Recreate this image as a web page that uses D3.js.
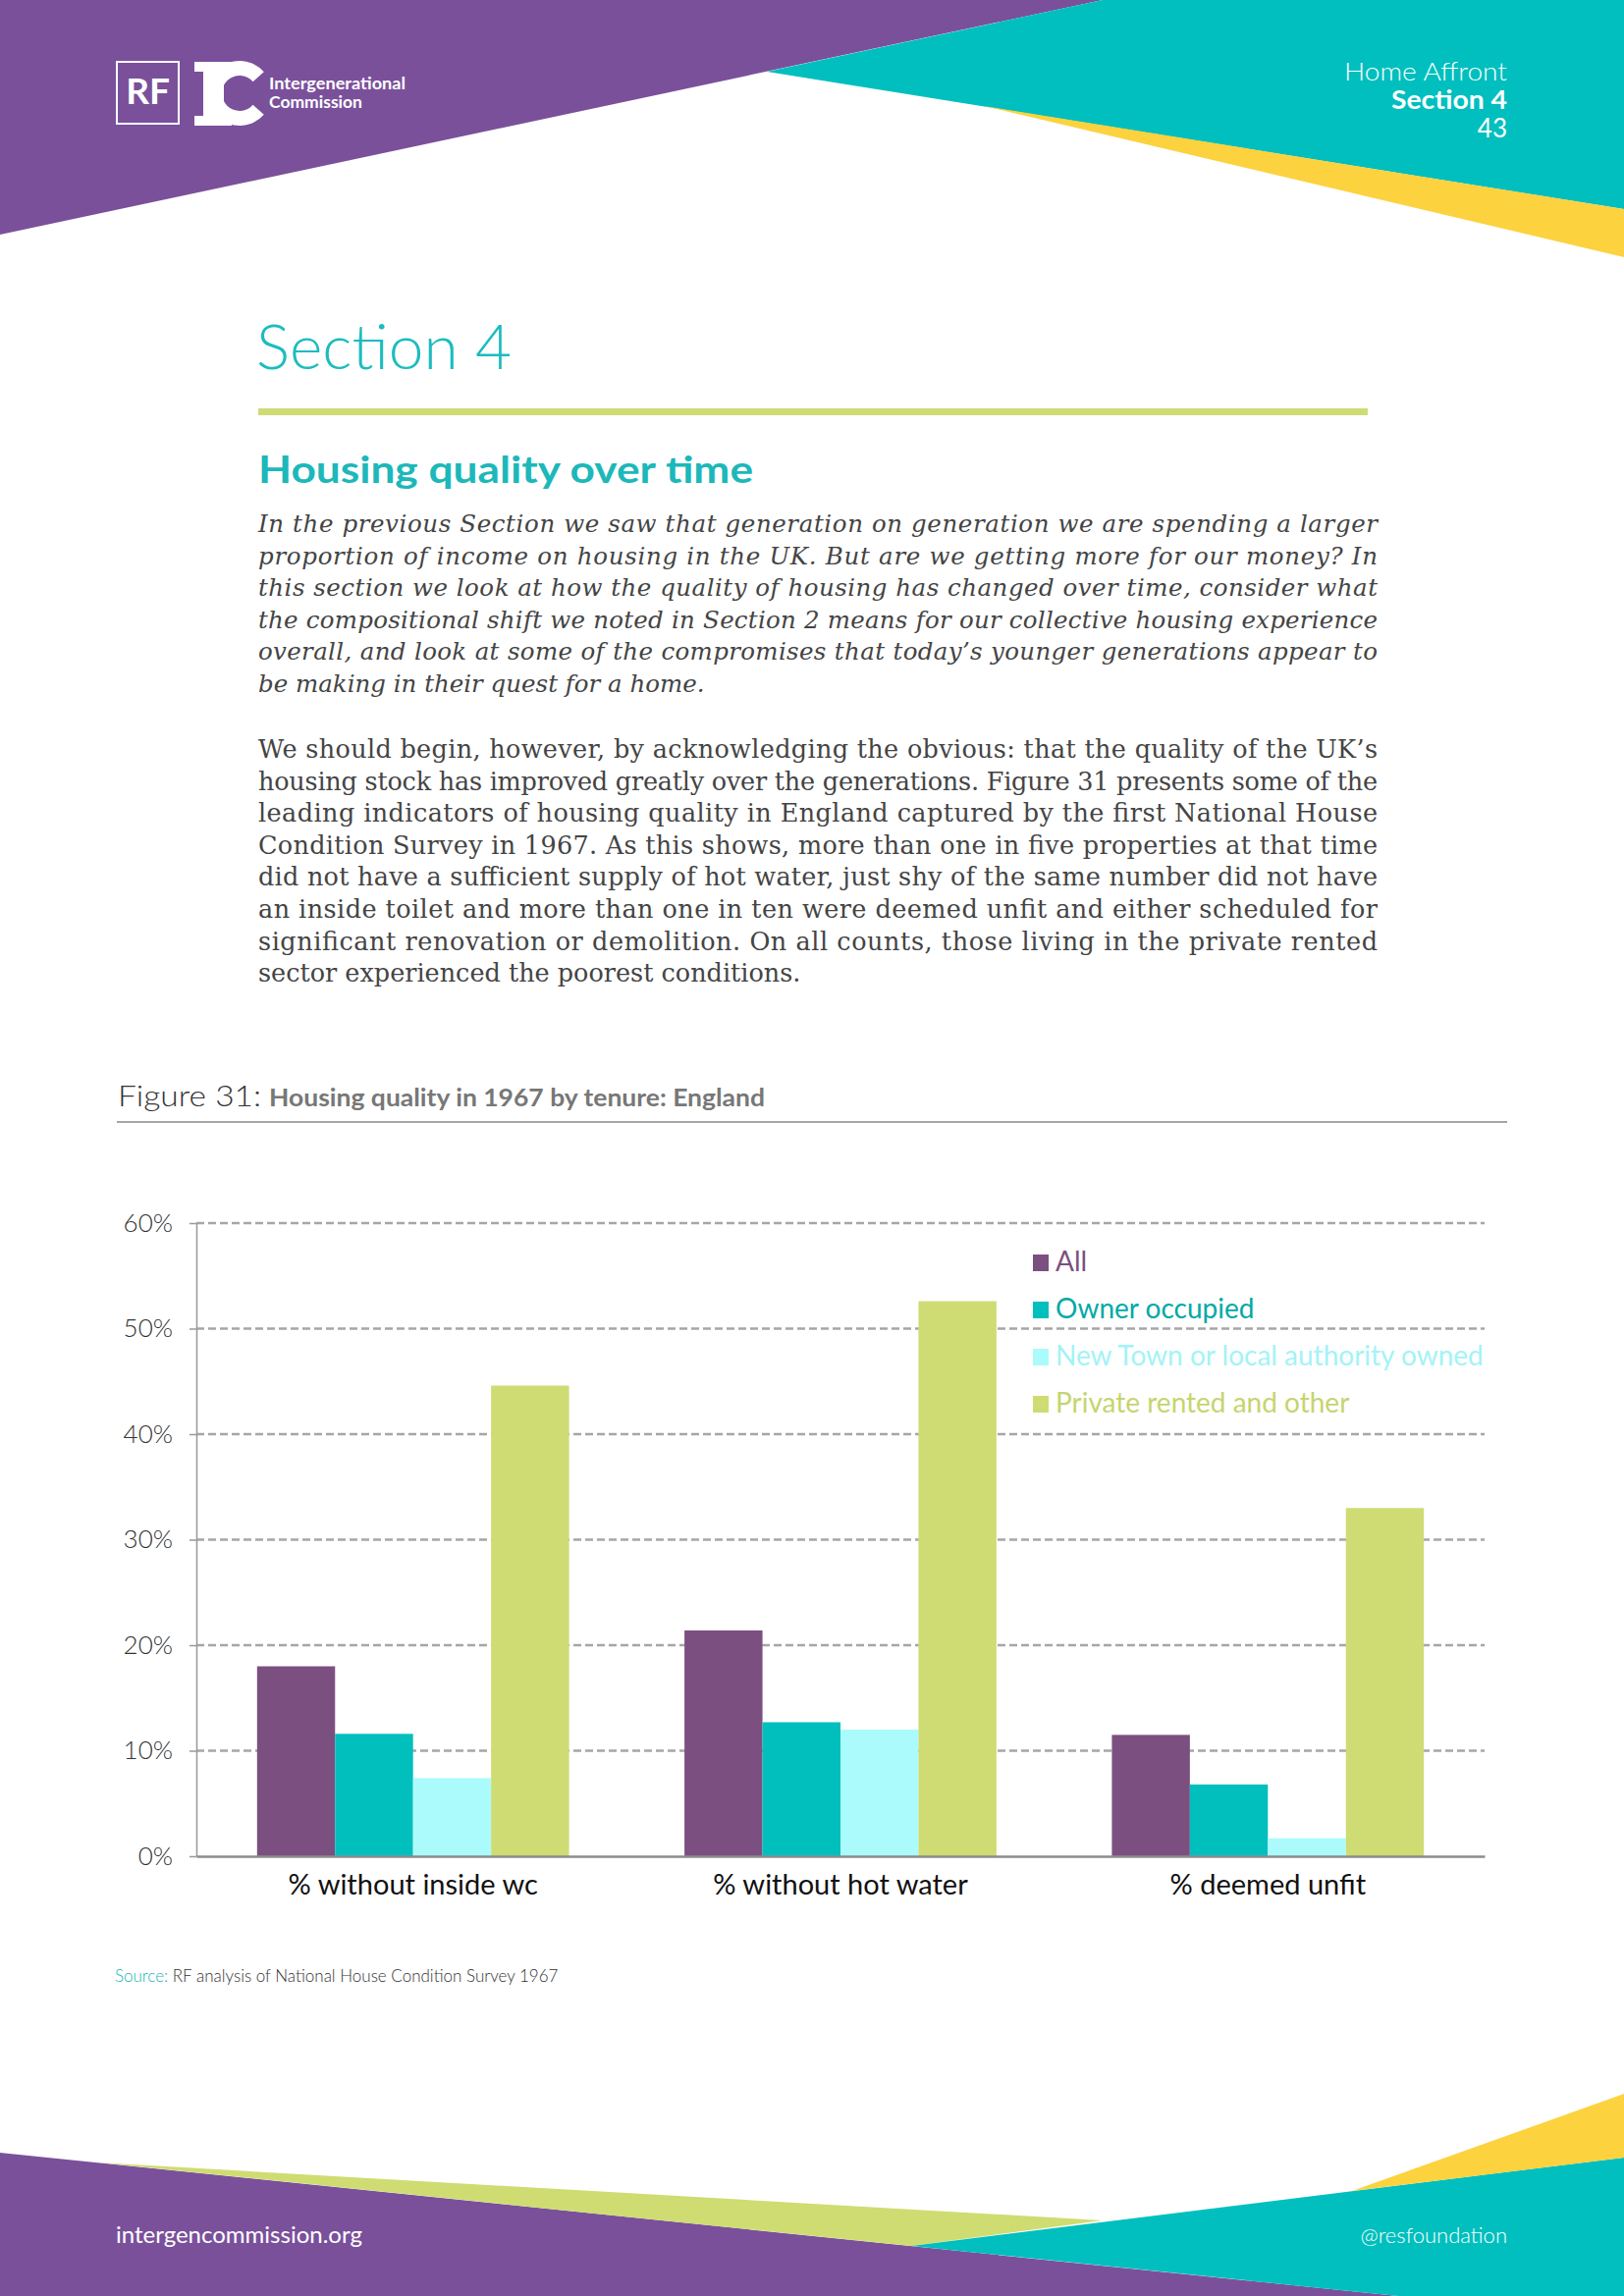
<!DOCTYPE html>
<html>
<head>
<meta charset="utf-8">
<script src="https://cdn.jsdelivr.net/npm/d3@7"></script>
<style>
  html, body { margin: 0; padding: 0; background: #fff; }
  svg { display: block; }
</style>
</head>
<body>
<svg id="page" width="1654" height="2339"></svg>
<script>
// chart data
const categories = ["% without inside wc", "% without hot water", "% deemed unfit"];
const seriesNames = ["All", "Owner occupied", "New Town or local authority owned", "Private rented and other"];
const allValues = [18.0, 21.4, 11.5];
const ownerValues = [11.6, 12.7, 6.8];
const newTownValues = [7.4, 12.0, 1.7];
const privateValues = [44.6, 52.6, 33.0];
const yTicks = [0, 10, 20, 30, 40, 50, 60];

// page text
const introLines = [
  "In the previous Section we saw that generation on generation we are spending a larger",
  "proportion of income on housing in the UK. But are we getting more for our money? In",
  "this section we look at how the quality of housing has changed over time, consider what",
  "the compositional shift we noted in Section 2 means for our collective housing experience",
  "overall, and look at some of the compromises that today\u2019s younger generations appear to",
  "be making in their quest for a home."
];
const bodyLines = [
  "We should begin, however, by acknowledging the obvious: that the quality of the UK\u2019s",
  "housing stock has improved greatly over the generations. Figure 31 presents some of the",
  "leading indicators of housing quality in England captured by the first National House",
  "Condition Survey in 1967. As this shows, more than one in five properties at that time",
  "did not have a sufficient supply of hot water, just shy of the same number did not have",
  "an inside toilet and more than one in ten were deemed unfit and either scheduled for",
  "significant renovation or demolition. On all counts, those living in the private rented",
  "sector experienced the poorest conditions."
];

var colors = ["#7b5080", "#00bfbd", "#abfbfc", "#cfdc74"];
var legendColors = ["#7b5080", "#00a9a7", "#a3f3f6", "#c6d46e"];
var sans = "Lato, 'Open Sans', sans-serif";

var svg = d3.select("#page");

// ---- page decoration ----
var purple = "#7a509b", teal = "#00bfbe", yellow = "#fcd23f", lime = "#cfdc72";
var shapes = [
  [purple, [[0, 0], [1123, 0], [0, 239]]],
  [teal, [[1123, 0], [1654, 0], [1654, 213], [781, 73]]],
  [yellow, [[1002, 108], [1654, 213], [1654, 262]]],
  [purple, [[0, 2193], [1424, 2339], [0, 2339]]],
  [lime, [[100, 2203], [1123, 2262], [928, 2288]]],
  [teal, [[928, 2288], [1654, 2198], [1654, 2339], [1424, 2339]]],
  [yellow, [[1377, 2232], [1654, 2133], [1654, 2198]]]
];
svg.selectAll("polygon.deco")
  .data(shapes)
  .enter().append("polygon")
  .attr("class", "deco")
  .attr("fill", function (d) { return d[0]; })
  .attr("points", function (d) { return d[1].join(" "); });

// logo
var logo = svg.append("g").attr("fill", "#fff");
logo.append("rect").attr("x", 119).attr("y", 63).attr("width", 63).attr("height", 63)
  .attr("fill", "none").attr("stroke", "#fff").attr("stroke-width", 2);
logo.append("text").attr("x", 150.5).attr("y", 106).attr("text-anchor", "middle")
  .style("font", "700 37px " + sans).text("RF");
logo.append("path")
  .attr("d", "M198,63H236V73H228V118H236V128H198V118H207V73H198Z");
logo.append("path")
  .attr("transform", "translate(244,95)")
  .attr("d", d3.arc().innerRadius(18).outerRadius(33)
    .startAngle(Math.PI / 2 + 0.72).endAngle(Math.PI * 2.5 - 0.72)());
logo.append("text").attr("x", 274).attr("y", 91)
  .attr("textLength", 139).attr("lengthAdjust", "spacingAndGlyphs")
  .style("font", "700 17px " + sans).text("Intergenerational");
logo.append("text").attr("x", 274).attr("y", 110)
  .attr("textLength", 95).attr("lengthAdjust", "spacingAndGlyphs")
  .style("font", "700 17px " + sans).text("Commission");

// running header
var hdr = svg.append("g").attr("fill", "#fff").attr("text-anchor", "end");
hdr.append("text").attr("x", 1535).attr("y", 82)
  .attr("textLength", 166).attr("lengthAdjust", "spacingAndGlyphs")
  .style("font", "300 26px " + sans).text("Home Affront");
hdr.append("text").attr("x", 1535).attr("y", 111)
  .attr("textLength", 118).attr("lengthAdjust", "spacingAndGlyphs")
  .style("font", "700 26px " + sans).text("Section 4");
hdr.append("text").attr("x", 1535).attr("y", 140).style("font", "400 26px " + sans).text("43");

// section heading
svg.append("text").attr("x", 261).attr("y", 376).attr("fill", "#1cbcbf")
  .style("font", "300 64px " + sans).text("Section 4");
svg.append("rect").attr("x", 263).attr("y", 416).attr("width", 1130).attr("height", 7).attr("fill", "#cfdc74");
svg.append("text").attr("x", 263).attr("y", 492).attr("fill", "#1cb8ba")
  .attr("textLength", 504).attr("lengthAdjust", "spacingAndGlyphs")
  .style("font", "700 38px " + sans).text("Housing quality over time");

// paragraphs
function paragraph(lines, startY, italic) {
  svg.append("g").selectAll("text")
    .data(lines)
    .enter().append("text")
    .attr("x", 263)
    .attr("y", function (d, i) { return startY + i * 32.6; })
    .attr("fill", "#444")
    .style("font-family", "'DejaVu Serif', serif")
    .style("font-style", italic ? "italic" : "normal")
    .style("font-size", italic ? "24.5px" : "25.5px")
    .attr("textLength", function (d, i) { return i < lines.length - 1 ? 1140 : null; })
    .attr("lengthAdjust", "spacing")
    .text(function (d) { return d; });
}
paragraph(introLines, 542, true);
paragraph(bodyLines, 772, false);

// figure title
svg.append("text").attr("x", 120).attr("y", 1127).attr("fill", "#333")
  .attr("textLength", 146).attr("lengthAdjust", "spacingAndGlyphs")
  .style("font", "300 29px " + sans).text("Figure 31:");
svg.append("text").attr("x", 274).attr("y", 1127).attr("fill", "#777")
  .attr("textLength", 505).attr("lengthAdjust", "spacingAndGlyphs")
  .style("font", "700 24px " + sans).text("Housing quality in 1967 by tenure: England");
svg.append("line").attr("x1", 119).attr("x2", 1535).attr("y1", 1143).attr("y2", 1143)
  .attr("stroke", "#888").attr("stroke-width", 1.5);

// ---- chart ----
var series = [allValues, ownerValues, newTownValues, privateValues];
var table = categories.map(function (c, ci) {
  return { cat: c, vals: seriesNames.map(function (s, si) { return { name: s, i: si, v: series[si][ci] }; }) };
});

var plotLeft = 200, plotRight = 1512, plotBottom = 1891, plotTop = 1246;
var x0 = d3.scaleBand().domain(categories).range([plotLeft, plotRight]).paddingInner(0.27).paddingOuter(0.142);
var x1 = d3.scaleBand().domain(seriesNames).range([0, x0.bandwidth()]);
var y = d3.scaleLinear().domain([0, 60]).range([plotBottom, plotTop]);

var chart = svg.append("g");

// dashed gridlines
chart.append("g").selectAll("line")
  .data(yTicks.filter(function (d) { return d > 0; }))
  .enter().append("line")
  .attr("x1", plotLeft).attr("x2", plotRight)
  .attr("y1", function (d) { return y(d); })
  .attr("y2", function (d) { return y(d); })
  .attr("stroke", "#a6a6a6").attr("stroke-width", 2.5)
  .attr("stroke-dasharray", "8,4");

// bars
chart.append("g").selectAll("g")
  .data(table)
  .enter().append("g")
  .attr("transform", function (d) { return "translate(" + x0(d.cat) + ",0)"; })
  .selectAll("rect")
  .data(function (d) { return d.vals; })
  .enter().append("rect")
  .attr("x", function (d) { return x1(d.name); })
  .attr("width", x1.bandwidth())
  .attr("y", function (d) { return y(d.v); })
  .attr("height", function (d) { return plotBottom - y(d.v); })
  .attr("fill", function (d) { return colors[d.i]; });

// y axis
var yAxis = chart.append("g")
  .attr("transform", "translate(" + plotLeft + ",0)")
  .call(d3.axisLeft(y).tickValues(yTicks).tickFormat(function (d) { return d + "%"; })
    .tickSize(7).tickSizeOuter(0).tickPadding(17));
yAxis.select(".domain").attr("stroke", "#999").attr("stroke-width", 1.5);
yAxis.selectAll(".tick line").attr("stroke", "#999").attr("stroke-width", 1.5);
yAxis.selectAll(".tick text").attr("fill", "#333")
  .style("font", "300 26px " + sans);

// x axis
var xAxis = chart.append("g")
  .attr("transform", "translate(0," + plotBottom + ")")
  .call(d3.axisBottom(x0).tickSize(0).tickSizeOuter(0));
xAxis.select(".domain").attr("stroke", "#8c8c8c").attr("stroke-width", 2.5);
xAxis.selectAll(".tick text")
  .attr("y", 39).attr("dy", null)
  .attr("fill", "#111")
  .style("font", "400 29px " + sans);

// legend
var legend = chart.append("g").selectAll("g")
  .data(seriesNames)
  .enter().append("g")
  .attr("transform", function (d, i) { return "translate(1052," + (1295 + i * 48) + ")"; });
legend.append("rect")
  .attr("x", 0).attr("y", -17).attr("width", 16).attr("height", 17)
  .attr("fill", function (d, i) { return colors[i]; });
legend.append("text")
  .attr("x", 23).attr("y", 0)
  .attr("fill", function (d, i) { return legendColors[i]; })
  .style("font", "400 28px " + sans)
  .text(function (d) { return d; });

// source
var src = svg.append("text").attr("x", 117).attr("y", 2019).style("font", "300 17px " + sans);
src.append("tspan").attr("fill", "#1ab5b5").text("Source: ");
src.append("tspan").attr("fill", "#333").text("RF analysis of National House Condition Survey 1967");

// footer
svg.append("text").attr("x", 118).attr("y", 2285).attr("fill", "#fff")
  .style("font", "400 24px " + sans).text("intergencommission.org");
svg.append("text").attr("x", 1535).attr("y", 2285).attr("fill", "#fff").attr("text-anchor", "end")
  .style("font", "300 22px " + sans).text("@resfoundation");
</script>
</body>
</html>
